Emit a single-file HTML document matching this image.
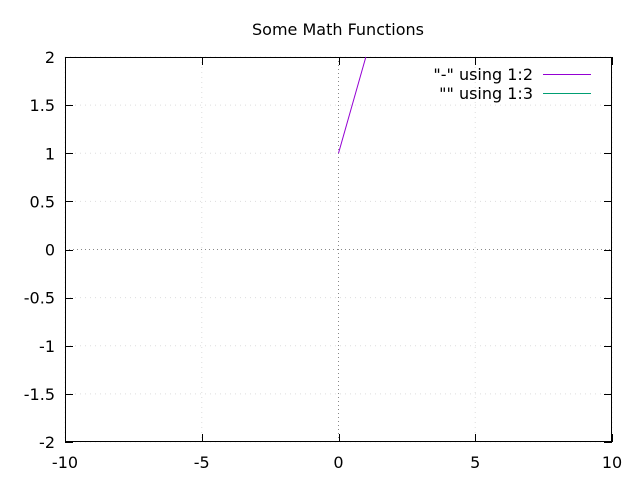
<!DOCTYPE html>
<html><head><meta charset="utf-8"><style>
html,body{margin:0;padding:0;background:#fff}
text{font-family:"DejaVu Sans","Liberation Sans",sans-serif;font-size:16px;fill:#000}
</style></head><body>
<svg id="chart" width="640" height="480" xmlns="http://www.w3.org/2000/svg"></svg>
<script>
const xTicks=[-10,-5,0,5,10];
const yTicks=[-2,-1.5,-1,-0.5,0,0.5,1,1.5,2];
const yTickLabels=["-2","-1.5","-1","-0.5","0","0.5","1","1.5","2"];
const series1X=[0,1];
const series1Y=[1,2];
const series2X=[];
const series2Y=[];
const L=65,R=612,T=57,B=442;
const sx=v=>L+(v+10)/20*(R-L);
const sy=v=>B-(v+2)/4*(B-T);
const svg=document.getElementById('chart');
const NS='http://www.w3.org/2000/svg';
function mk(tag,attrs,parent){const e=document.createElementNS(NS,tag);for(const k in attrs)e.setAttribute(k,attrs[k]);(parent||svg).appendChild(e);return e;}
const defs=mk('defs',{});
const cp=mk('clipPath',{id:'pc'},defs);mk('rect',{x:L,y:T,width:R-L,height:B-T},cp);
xTicks.forEach(v=>{const g=mk('line',{x1:sx(v),x2:sx(v),y1:T,y2:B,stroke:v===0?'#888':'#ddd','stroke-width':1,'stroke-dasharray':v===0?'1,3':'1,4'});

});
yTicks.forEach(v=>{const g=mk('line',{x1:L,x2:R,y1:sy(v),y2:sy(v),stroke:v===0?'#888':'#ddd','stroke-width':1,'stroke-dasharray':v===0?'1,3':'1,4'});

});
const fr=mk('rect',{x:L+.5,y:T+.5,width:R-L-1,height:B-T-1,fill:'none',stroke:'#000','stroke-width':1});


xTicks.forEach((v,i)=>{const x=Math.round(sx(v))+.5;
mk('line',{x1:x,x2:x,y1:B,y2:B-8,stroke:'#000'});mk('line',{x1:x,x2:x,y1:T,y2:T+8,stroke:'#000'});
const t=mk('text',{x:sx(v),y:B+26,'text-anchor':'middle'});t.textContent=String(v);

});
yTicks.forEach((v,i)=>{const y=Math.round(sy(v))+.5;
mk('line',{x1:L,x2:L+8,y1:y,y2:y,stroke:'#000'});mk('line',{x1:R,x2:R-8,y1:y,y2:y,stroke:'#000'});
const t=mk('text',{x:L-10,y:sy(v)+6,'text-anchor':'end'});t.textContent=yTickLabels[i];

});
const ti=mk('text',{x:338,y:35,'text-anchor':'middle'});ti.textContent='Some Math Functions';


function drawSeries(xs,ys,color,name){
 if(!xs.length)return;
 const p=mk('polyline',{points:xs.map((x,i)=>sx(x)+','+sy(ys[i])).join(' '),fill:'none',stroke:color,'stroke-width':1,'clip-path':'url(#pc)'});
 
 
}
drawSeries(series1X,series1Y,'#9400d3','series-1-line');
drawSeries(series2X,series2Y,'#009e73','series-2-line');
[['"-" using 1:2','#9400d3',74],['"" using 1:3','#009e73',93]].forEach(([lab,c,y],i)=>{
 const t=mk('text',{x:533,y:y+6,'text-anchor':'end'});t.textContent=lab;
 
 
 const l=mk('line',{x1:543,x2:591,y1:y+.5,y2:y+.5,stroke:c,'stroke-width':1});
 
 
});
</script>
</body></html>
